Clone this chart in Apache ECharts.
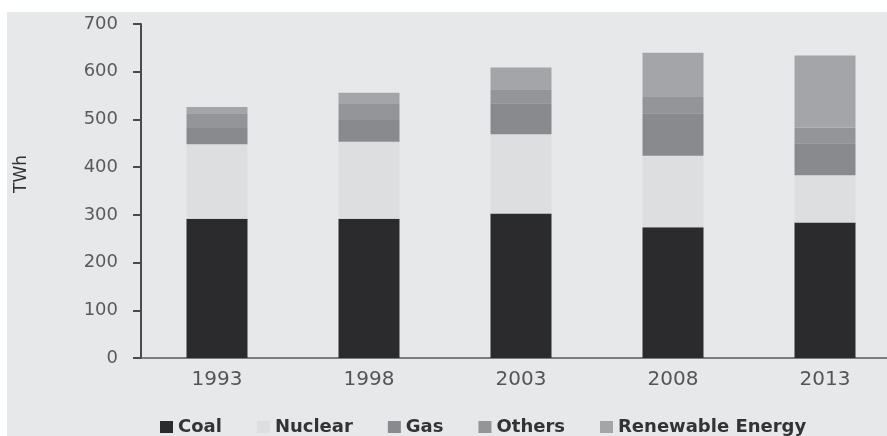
<!DOCTYPE html>
<html>
<head>
<meta charset="utf-8">
<script src="https://cdn.jsdelivr.net/npm/echarts@6/dist/echarts.min.js"></script>
<style>
  html, body { margin: 0; padding: 0; background: #ffffff; }
  #chart { width: 887px; height: 436px; }
</style>
</head>
<body>
<div id="chart"></div>
<script>
// Electricity generation by source, TWh
const years = ['1993', '1998', '2003', '2008', '2013'];
const coal = [292, 292, 303, 274, 284];
const nuclear = [156, 161, 166, 150, 99];
const gas = [34, 46, 65, 89, 67];
const others = [31, 35, 29, 34, 33];
const renewable = [13, 22, 46, 93, 151];
const yTicks = { min: 0, max: 700, interval: 100 };

const seriesDefs = [
  { name: 'Coal', data: coal, color: '#2b2a2c' },
  { name: 'Nuclear', data: nuclear, color: '#dddee0' },
  { name: 'Gas', data: gas, color: '#898a8e' },
  { name: 'Others', data: others, color: '#939599' },
  { name: 'Renewable Energy', data: renewable, color: '#a3a5a8' }
];

const chart = echarts.init(document.getElementById('chart'), null, { renderer: 'canvas' });

chart.setOption({
  backgroundColor: '#ffffff',
  animation: false,
  graphic: [
    {
      type: 'rect',
      z: -10,
      silent: true,
      shape: { x: 7, y: 12, width: 880, height: 424 },
      style: { fill: '#e7e8ea' }
    },
    {
      type: 'text',
      x: 22,
      y: 174,
      rotation: Math.PI / 2,
      silent: true,
      style: {
        text: 'TWh',
        fill: '#333333',
        font: '17px "DejaVu Sans"',
        align: 'center',
        verticalAlign: 'middle'
      }
    }
  ],
  // plot area runs past the right edge of the page
  grid: { left: 141, width: 760, top: 24, bottom: 78, outerBoundsMode: 'none' },
  legend: {
    left: 160,
    top: 418,
    padding: 0,
    itemWidth: 13,
    itemHeight: 12,
    itemGap: 35,
    icon: 'rect',
    textStyle: {
      fontFamily: 'DejaVu Sans',
      fontWeight: 'bold',
      fontSize: 18,
      color: '#333333'
    },
    data: seriesDefs.map(s => s.name)
  },
  xAxis: {
    type: 'category',
    data: years,
    axisLine: { lineStyle: { color: '#5a5a5a', width: 1.5 } },
    axisTick: { show: false },
    axisLabel: {
      margin: 12,
      color: '#555555',
      fontFamily: 'DejaVu Sans',
      fontSize: 20
    }
  },
  yAxis: {
    type: 'value',
    min: yTicks.min,
    max: yTicks.max,
    interval: yTicks.interval,
    splitLine: { show: false },
    axisLine: { show: true, lineStyle: { color: '#4a4a4a', width: 2 } },
    axisTick: { show: true, length: 8, lineStyle: { color: '#4a4a4a', width: 2 } },
    axisLabel: {
      margin: 23,
      color: '#5a5a5a',
      fontFamily: 'DejaVu Sans',
      fontSize: 18
    }
  },
  series: seriesDefs.map(s => ({
    name: s.name,
    type: 'bar',
    stack: 'total',
    barWidth: 61,
    data: s.data,
    itemStyle: { color: s.color }
  }))
});
</script>
</body>
</html>
